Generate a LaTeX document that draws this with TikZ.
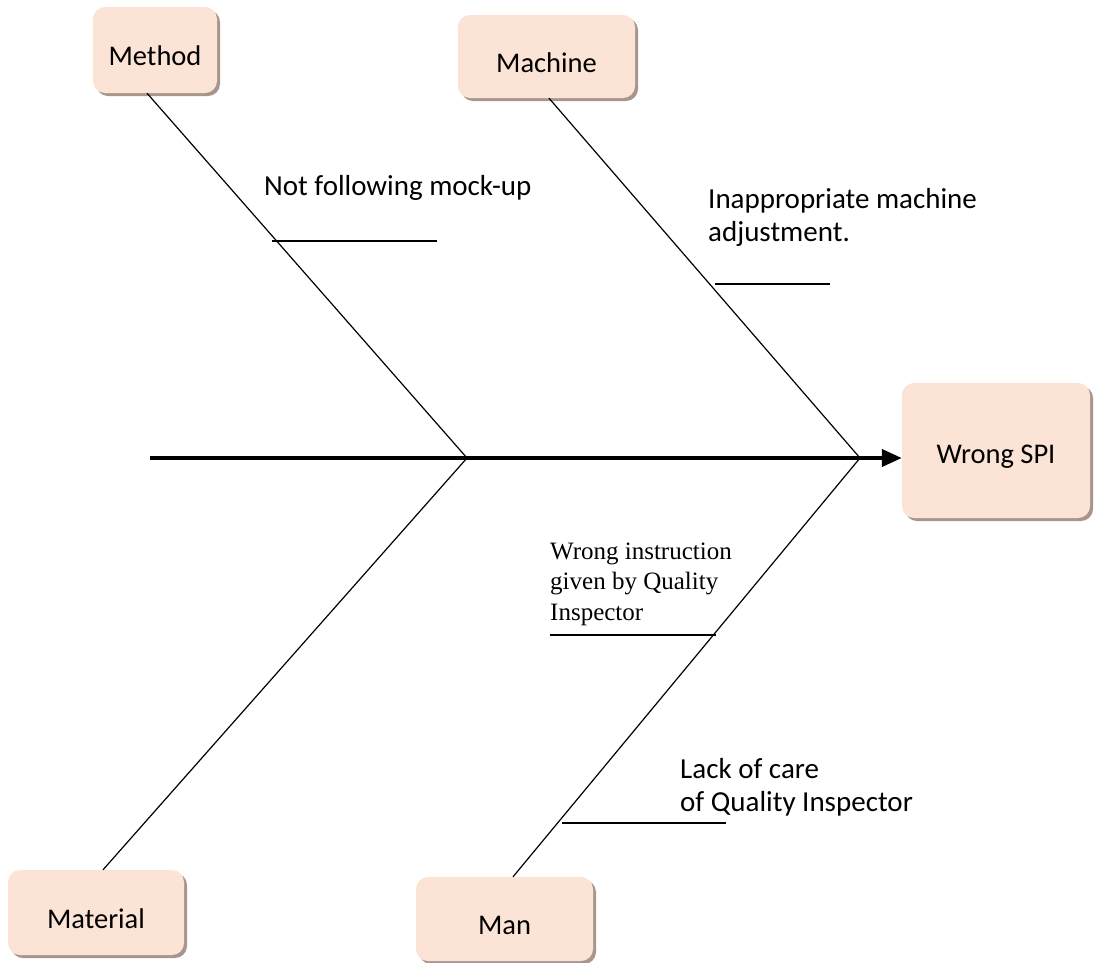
\documentclass[tikz,border=0pt]{standalone}
\usepackage{fontspec}
\setmainfont{Carlito}
\newfontfamily\serifcause{Liberation Serif}
\usetikzlibrary{arrows.meta,calc,shadows}

\definecolor{boxfill}{RGB}{251,228,214}
\definecolor{boxshade}{RGB}{168,150,140}

% box labels sit a little below the middle of their box
\newcommand\boxlabel[1]{\raisebox{-6pt}[\height][\depth]{#1}}

\tikzset{
  catbox/.style={rounded corners=12pt, fill=boxfill, draw=none,
    drop shadow={shadow xshift=3pt, shadow yshift=-3pt, fill=boxshade, opacity=1},
    font=\fontsize{28.5}{33}\selectfont, inner sep=0pt},
  bone/.style={line width=1.2pt, black},
  subbone/.style={line width=1.2pt, black},
  spine/.style={line width=4pt, -{Triangle[length=20pt,width=17pt]}},
  cause/.style={anchor=base west, align=left, inner sep=0pt,
    font=\fontsize{29}{33}\selectfont},
  causeserif/.style={anchor=base west, align=left, inner sep=0pt,
    font=\serifcause\fontsize{25}{30.5}\selectfont},
}

\begin{document}
\begin{tikzpicture}[x=1pt,y=-1pt]
  \useasboundingbox (0,0) rectangle (1095,962);

  % category boxes and the effect
  \node[catbox, minimum width=124pt, minimum height=86pt] (method) at (155,50) {\boxlabel{Method}};
  \node[catbox, minimum width=177pt, minimum height=83pt] (machine) at (546.5,56.5) {\boxlabel{Machine}};
  \node[catbox, minimum width=188pt, minimum height=135pt] (spi) at (996,450.5) {\boxlabel{Wrong SPI}};
  \node[catbox, minimum width=176pt, minimum height=85pt] (material) at (96,912.5) {\boxlabel{Material}};
  \node[catbox, minimum width=177pt, minimum height=84pt] (man) at (504.5,919) {\boxlabel{Man}};

  % spine
  \coordinate (tail) at (150,458);
  \coordinate (j1) at (467,458);
  \coordinate (j2) at (860,458);
  \draw[spine] (tail) -- (tail -| spi.west);

  % main bones
  \draw[bone] ($(method.south)+(-8,0)$) -- (j1);
  \draw[bone] ($(machine.south)+(2.5,0)$) -- (j2);
  \draw[bone] (j1) -- ($(material.north)+(7,0)$);
  \draw[bone] (j2) -- ($(man.north)+(8.5,0)$);

  % sub-causes
  \coordinate (s1a) at (272,241);  \coordinate (s1b) at (437,241);
  \coordinate (s2a) at (715,284);  \coordinate (s2b) at (830,284);
  \coordinate (s3a) at (550,635);  \coordinate (s3b) at (716,635);
  \coordinate (s4a) at (562,823);  \coordinate (s4b) at (726,823);
  \draw[subbone] (s1a) -- (s1b);
  \draw[subbone] (s2a) -- (s2b);
  \draw[subbone] (s3a) -- (s3b);
  \draw[subbone] (s4a) -- (s4b);

  % labels (positions give the baseline of the last line)
  \node[cause] (c1) at (264,195) {Not following mock-up};
  \node[cause] (c2) at (708,241) {Inappropriate machine\\adjustment.};
  \node[causeserif] (c3) at (550,620) {Wrong instruction\\given by Quality\\Inspector};
  \node[cause] (c4) at (680,811) {Lack of care\\of Quality Inspector};
\end{tikzpicture}
\end{document}
